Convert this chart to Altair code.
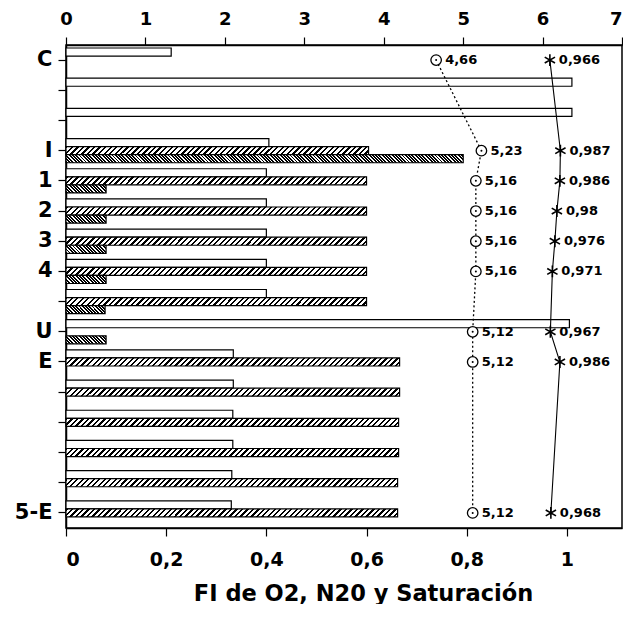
import altair as alt
import pandas as pd

# ---------------- data ----------------
rows = ["C", "_a", "_b", "I", "1", "2", "3", "4", "_c", "U", "E", "_d", "_e", "_f", "_g", "5-E"]
white_vals = [0.21, 1.01, 1.01, 0.405, 0.40, 0.40, 0.40, 0.40, 0.40, 1.005, 0.334, 0.334, 0.333, 0.333, 0.331, 0.330]
hatch_vals = [None, None, None, 0.604, 0.60, 0.60, 0.60, 0.60, 0.60, None, 0.666, 0.666, 0.664, 0.664, 0.662, 0.662]
dark_vals = [None, None, None, 0.793, 0.08, 0.08, 0.08, 0.08, 0.078, 0.08, None, None, None, None, None, None]

point_rows = ["C", "I", "1", "2", "3", "4", "U", "E", "5-E"]
circle_vals = [4.66, 5.23, 5.16, 5.16, 5.16, 5.16, 5.12, 5.12, 5.12]
star_vals = [0.966, 0.987, 0.986, 0.98, 0.976, 0.971, 0.967, 0.986, 0.968]

bottom_ticks = [0, 0.2, 0.4, 0.6, 0.8, 1]
top_ticks = [0, 1, 2, 3, 4, 5, 6, 7]
x_title = "FI de O2, N20 y Saturación"

# ---------------- layout ----------------
W, H = 556, 483
X_MAX = 1.11
PX = W / X_MAX
BAR_H = H / 16 * 0.8 / 3
FONT = "DejaVu Sans"

recs = []
for i, r in enumerate(rows):
    for s, arr in (("w", white_vals), ("h", hatch_vals), ("d", dark_vals)):
        if arr[i] is not None:
            recs.append({"row": r, "series": s, "value": arr[i]})
bars = pd.DataFrame(recs)

pts = pd.DataFrame({
    "row": point_rows,
    "cv": circle_vals,
    "sv": star_vals,
    "idx": list(range(len(point_rows))),
})


def hatch(value, period, ink_frac, direction):
    wpx = value * PX
    k = BAR_H / wpx
    s = 1 + k
    n = max(1, round(wpx * s * (1 + k * k) / period))
    stops = []
    for i in range(n):
        a, b, c = i / n, (i + ink_frac) / n, (i + 1) / n
        stops += [
            {"offset": a, "color": "#000000"},
            {"offset": b, "color": "#000000"},
            {"offset": b, "color": "#ffffff"},
            {"offset": c, "color": "#ffffff"},
        ]
    if direction == "/":
        x1, y1, x2, y2 = 0, 0, s, s * k
    else:
        x1, y1, x2, y2 = 0, 1, s, 1 - s * k
    return {"gradient": "linear", "x1": x1, "y1": y1, "x2": x2, "y2": y2, "stops": stops}


y_enc = alt.Y(
    "row:N",
    sort=rows,
    scale=alt.Scale(domain=rows, paddingInner=0.2, paddingOuter=0.1),
    axis=alt.Axis(
        title=None,
        labelExpr="indexof(datum.value, '_') == 0 ? '' : datum.value",
        tickSize=8,
        labelPadding=6,
        labelFontSize=21,
    ),
)
yoff = alt.YOffset(
    "series:N",
    sort=["w", "h", "d"],
    scale=alt.Scale(domain=["w", "h", "d"], paddingInner=0, paddingOuter=0),
)
xs_bottom = alt.Scale(domain=[0, X_MAX], nice=False, zero=True)
xs_top = alt.Scale(domain=[0, 7], nice=False, zero=True)

bottom_axis = alt.Axis(
    orient="bottom",
    values=bottom_ticks,
    format=".1~f",
    labelExpr="replace(datum.label, '.', ',')",
    title=x_title,
    titleFontSize=22.5,
    titleX=297,
    titleY=72,
    titleAlign="center",
    titleBaseline="alphabetic",
    tickSize=8,
    labelPadding=14,
    labelFontSize=19,
    grid=False,
)
top_axis = alt.Axis(
    orient="top",
    values=top_ticks,
    format="d",
    title=None,
    tickSize=8,
    labelPadding=13,
    labelBaseline="alphabetic",
    labelAlign=alt.ExprRef(expr="datum.value == 7 ? 'right' : 'center'"),
    labelFontSize=18,
    grid=False,
)

base_bars = alt.Chart(bars)

white_layer = base_bars.transform_filter("datum.series == 'w'").mark_bar(
    fill="white", stroke="black", strokeWidth=1.2
).encode(
    x=alt.X("value:Q", scale=xs_bottom, axis=bottom_axis), y=y_enc, yOffset=yoff
)


def hatched_layer(test, grad):
    return base_bars.transform_filter(test).mark_bar(
        fill=grad, stroke="black", strokeWidth=1.2
    ).encode(x=alt.X("value:Q", scale=xs_bottom, axis=None), y=y_enc, yOffset=yoff)


h_a = hatched_layer("datum.series == 'h' && datum.value < 0.63", hatch(0.602, 5.5, 0.42, "/"))
h_b = hatched_layer("datum.series == 'h' && datum.value >= 0.63", hatch(0.664, 5.5, 0.42, "/"))
d_a = hatched_layer("datum.series == 'd' && datum.value > 0.5", hatch(0.793, 3.3, 0.58, "\\"))
d_b = hatched_layer("datum.series == 'd' && datum.value <= 0.5", hatch(0.08, 3.3, 0.58, "\\"))

base_pts = alt.Chart(pts).transform_calculate(
    clab="replace(format(datum.cv, '.2f'), '.', ',')",
    slab="replace(format(datum.sv, '.3~f'), '.', ',')",
)

circ_line = base_pts.mark_line(color="black", strokeWidth=1.3, strokeDash=[2, 2.5]).encode(
    x=alt.X("cv:Q", scale=xs_top, axis=None), y=y_enc, order=alt.Order("idx:Q")
)
star_line = base_pts.mark_line(color="black", strokeWidth=1.1).encode(
    x=alt.X("sv:Q", scale=xs_bottom, axis=None), y=y_enc, order=alt.Order("idx:Q")
)
circ_pts = base_pts.mark_point(
    shape="circle", size=110, filled=False, fill="white", fillOpacity=1, stroke="black", strokeWidth=1.3, opacity=1
).encode(x=alt.X("cv:Q", scale=xs_top, axis=top_axis), y=y_enc)
circ_dots = base_pts.mark_point(shape="circle", size=4, filled=True, color="black", opacity=1).encode(
    x=alt.X("cv:Q", scale=xs_top, axis=None), y=y_enc
)
star_pts = base_pts.mark_point(
    shape="M0,-1L0,1M-0.87,-0.5L0.87,0.5M-0.87,0.5L0.87,-0.5",
    size=140,
    filled=False,
    stroke="black",
    strokeWidth=1.6,
    opacity=1,
).encode(x=alt.X("sv:Q", scale=xs_bottom, axis=None), y=y_enc)

circ_text = base_pts.mark_text(
    align="left", baseline="middle", dx=9, font=FONT, fontSize=13, fontWeight="bold", color="black"
).encode(x=alt.X("cv:Q", scale=xs_top, axis=None), y=y_enc, text="clab:N")
star_text = base_pts.mark_text(
    align="left", baseline="middle", dx=9, font=FONT, fontSize=13, fontWeight="bold", color="black"
).encode(x=alt.X("sv:Q", scale=xs_bottom, axis=None), y=y_enc, text="slab:N")

chart = (
    alt.layer(
        white_layer, h_a, h_b, d_a, d_b,
        circ_line, star_line, circ_pts, circ_dots, star_pts, circ_text, star_text,
    )
    .resolve_scale(x="independent")
    .properties(
        width=W,
        height=H,
        autosize=alt.AutoSizeParams(type="none"),
        padding={"left": 58, "top": 37, "right": 1, "bottom": 76},
        background="white",
    )
    .configure_view(stroke="black", strokeWidth=1.5)
    .configure_axis(
        labelFont=FONT,
        labelFontWeight="bold",
        labelColor="black",
        titleFont=FONT,
        titleFontWeight="bold",
        titleColor="black",
        tickColor="black",
        tickWidth=1.2,
        domainColor="black",
        domainWidth=1.5,
    )
)

chart.save("out.html", embed_options={"renderer": "svg", "actions": False})
